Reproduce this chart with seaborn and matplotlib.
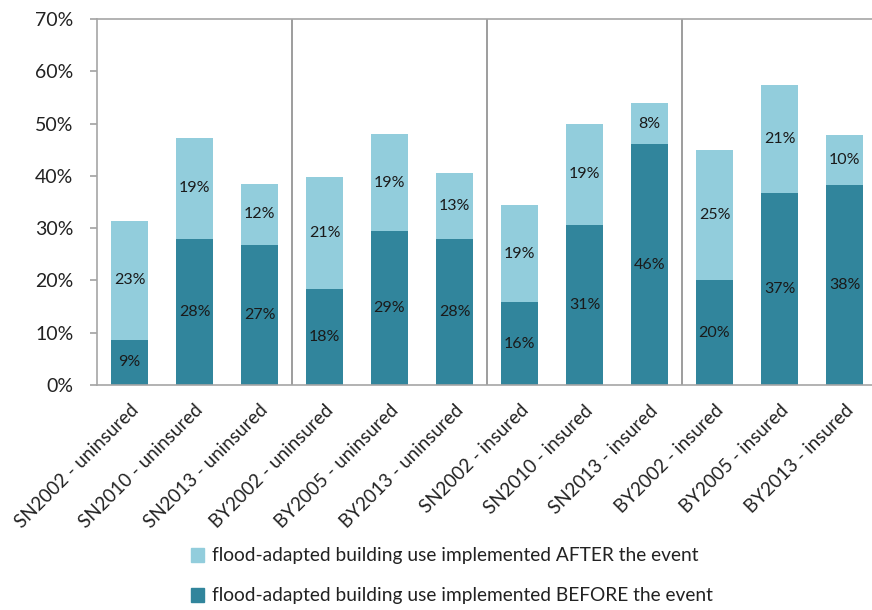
import matplotlib
matplotlib.use("Agg")
import matplotlib.pyplot as plt
import seaborn as sns
import pandas as pd
from matplotlib.patches import Patch

categories = ["SN2002 - uninsured", "SN2010 - uninsured", "SN2013 - uninsured",
              "BY2002 - uninsured", "BY2005 - uninsured", "BY2013 - uninsured",
              "SN2002 - insured", "SN2010 - insured", "SN2013 - insured",
              "BY2002 - insured", "BY2005 - insured", "BY2013 - insured"]
before = [8.7, 28.0, 26.8, 18.4, 29.4, 27.9, 15.8, 30.6, 46.0, 20.0, 36.8, 38.2]
after = [22.6, 19.3, 11.7, 21.4, 18.6, 12.6, 18.6, 19.4, 8.0, 25.0, 20.6, 9.6]
yticks = [0, 10, 20, 30, 40, 50, 60, 70]
legend_labels = ["flood-adapted building use implemented AFTER the event",
                 "flood-adapted building use implemented BEFORE the event"]

light = "#92CDDC"
dark = "#31859C"

sns.set_theme(style="white")
plt.rcParams['font.family'] = ['Lato', 'DejaVu Sans']

df = pd.DataFrame({"cat": categories, "before": before, "after": after})
df["total"] = df["before"] + df["after"]

fig = plt.figure(figsize=(8.72, 6.10), dpi=100)
W, H = 872, 610
ax = fig.add_axes([97 / W, (610 - 385) / H, (872 - 97) / W, (385 - 19) / H])

sns.barplot(data=df, x="cat", y="total", color=light, saturation=1, width=0.57,
            ax=ax, linewidth=0)
sns.barplot(data=df, x="cat", y="before", color=dark, saturation=1, width=0.57,
            ax=ax, linewidth=0)

for i, (b, a) in enumerate(zip(before, after)):
    ax.text(i, b / 2, f"{b:.0f}%", ha="center", va="center", fontsize=11.5, color="#1a1a1a")
    ax.text(i, b + a / 2, f"{a:.0f}%", ha="center", va="center", fontsize=11.5, color="#1a1a1a")

for xs in [2.5, 5.5, 8.5]:
    ax.axvline(xs, color="#8c8c8c", linewidth=1.2, zorder=0)

ax.set_xlim(-0.5, -0.5 + (872 - 97) / 65)
ax.set_ylim(0, 70)
ax.set_yticks(yticks)
ax.set_yticklabels([f"{t}%" for t in yticks], fontsize=14, color="#222222")
ax.set_xticks(range(len(categories)))
ax.set_xticklabels(categories, rotation=45, ha="right", rotation_mode="anchor",
                   fontsize=13.5, color="#222222")
ax.set_xlabel("")
ax.set_ylabel("")
for s in ["left", "bottom", "top"]:
    ax.spines[s].set_visible(True)
    ax.spines[s].set_color("#a6a6a6")
    ax.spines[s].set_linewidth(1.2)
ax.spines["right"].set_visible(False)
ax.tick_params(axis="y", which="both", left=True, length=5, color="#a6a6a6", pad=12)
ax.tick_params(axis="x", which="both", bottom=False, pad=6)

handles = [Patch(color=light), Patch(color=dark)]
fig.legend(handles, legend_labels, loc="center", bbox_to_anchor=(452 / W, 1 - 576 / H),
           ncol=1, frameon=False, fontsize=13.8, handlelength=0.7, handleheight=0.7,
           handletextpad=0.4, labelspacing=1.2, labelcolor="#222222")

fig.savefig("out.png", dpi=100)
